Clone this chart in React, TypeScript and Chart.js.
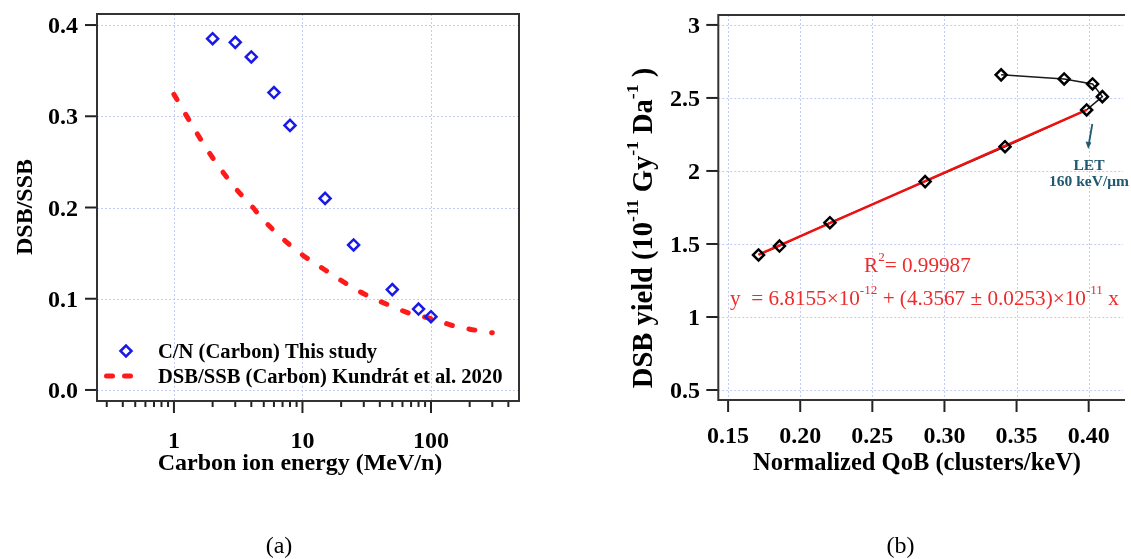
import React, { useEffect, useRef } from "react";
import { Chart, registerables } from "chart.js";
Chart.register(...registerables);

// ---------------- Panel (a) data ----------------
const energyStudy = [2, 3, 4, 6, 8, 15, 25, 50, 80, 100];
const ratioStudy = [0.385, 0.381, 0.365, 0.326, 0.29, 0.21, 0.159, 0.11, 0.0887, 0.0803];
const energyKundrat = [1, 1.5, 2, 3, 4, 5, 7, 10, 15, 20, 30, 50, 70, 100, 150, 200, 300];
const ratioKundrat = [0.324, 0.282, 0.2545, 0.2215, 0.202, 0.186, 0.166, 0.148, 0.1315, 0.12, 0.1055, 0.0915, 0.0835, 0.0783, 0.0703, 0.0666, 0.0627];
const aYTicks = [0, 0.1, 0.2, 0.3, 0.4];
const aYTickLabels = ["0.0", "0.1", "0.2", "0.3", "0.4"];
const aXMajor = [1, 10, 100];
const aXMajorLabels = ["1", "10", "100"];
const aXMinor = [0.3, 0.4, 0.5, 0.6, 0.7, 0.8, 0.9, 2, 3, 4, 5, 6, 7, 8, 9, 20, 30, 40, 50, 60, 70, 80, 90, 200, 300, 400];

// ---------------- Panel (b) data ----------------
const qobValues = [0.3393, 0.383, 0.4027, 0.4095, 0.3986, 0.342, 0.2866, 0.2206, 0.1856, 0.1711];
const dsbYield = [2.658, 2.63, 2.596, 2.509, 2.418, 2.166, 1.927, 1.646, 1.486, 1.425];
const fitQob = [0.1711, 0.3986];
const fitYield = [1.427, 2.418];
const bXTicks = [0.15, 0.2, 0.25, 0.3, 0.35, 0.4];
const bXTickLabels = ["0.15", "0.20", "0.25", "0.30", "0.35", "0.40"];
const bYTicks = [0.5, 1, 1.5, 2, 2.5, 3];
const bYTickLabels = ["0.5", "1", "1.5", "2", "2.5", "3"];

const FONT = "'Liberation Serif', 'Times New Roman', Times, serif";
const GRID = "#c3cbf4";
const FRAME = "#333333";
const TEAL = "#215a70";
const RED_TXT = "#ee2a2a";

type Part = { t: string; sup?: boolean };

function drawRich(
  ctx: CanvasRenderingContext2D,
  parts: Part[],
  x: number,
  y: number,
  size: number,
  opts: { bold?: boolean; color?: string; align?: "left" | "center" | "right"; sx?: number; supScale?: number; supRaise?: number }
) {
  const bold = opts.bold ? "bold " : "";
  const sx = opts.sx ?? 1;
  const supSize = size * (opts.supScale ?? 0.62);
  const raise = size * (opts.supRaise ?? 0.42);
  ctx.save();
  ctx.textBaseline = "alphabetic";
  ctx.textAlign = "left";
  const widths = parts.map((p) => {
    ctx.font = `${bold}${p.sup ? supSize : size}px ${FONT}`;
    return ctx.measureText(p.t).width * sx;
  });
  const total = widths.reduce((s, w) => s + w, 0);
  let cx = opts.align === "center" ? x - total / 2 : opts.align === "right" ? x - total : x;
  ctx.fillStyle = opts.color ?? "#000";
  parts.forEach((p, i) => {
    ctx.font = `${bold}${p.sup ? supSize : size}px ${FONT}`;
    ctx.save();
    ctx.translate(cx, p.sup ? y - raise : y);
    ctx.scale(sx, 1);
    ctx.fillText(p.t, 0, 0);
    ctx.restore();
    cx += widths[i];
  });
  ctx.restore();
  return total;
}

function txt(
  ctx: CanvasRenderingContext2D,
  s: string,
  x: number,
  y: number,
  size: number,
  opts: { bold?: boolean; color?: string; align?: "left" | "center" | "right"; sx?: number }
) {
  return drawRich(ctx, [{ t: s }], x, y, size, opts);
}

function seg(ctx: CanvasRenderingContext2D, x1: number, y1: number, x2: number, y2: number) {
  ctx.beginPath();
  ctx.moveTo(x1, y1);
  ctx.lineTo(x2, y2);
  ctx.stroke();
}

function diamond(ctx: CanvasRenderingContext2D, x: number, y: number, r: number) {
  ctx.beginPath();
  ctx.moveTo(x - r, y);
  ctx.lineTo(x, y - r);
  ctx.lineTo(x + r, y);
  ctx.lineTo(x, y + r);
  ctx.closePath();
  ctx.stroke();
}

const panelAPlugin = {
  id: "panelA",
  beforeDatasetsDraw(chart: any) {
    const { ctx, chartArea: ca, scales } = chart;
    const x = scales.x, y = scales.y;
    ctx.save();
    ctx.strokeStyle = GRID;
    ctx.lineWidth = 1;
    ctx.setLineDash([2, 2]);
    aXMajor.forEach((v) => {
      const px = Math.round(x.getPixelForValue(v)) + 0.5;
      seg(ctx, px, ca.top, px, ca.bottom);
    });
    aYTicks.forEach((v) => {
      const py = Math.round(y.getPixelForValue(v)) + 0.5;
      seg(ctx, ca.left, py, ca.right, py);
    });
    ctx.restore();
  },
  afterDatasetsDraw(chart: any) {
    const { ctx, chartArea: ca, scales } = chart;
    const x = scales.x, y = scales.y;
    ctx.save();
    // ticks
    ctx.strokeStyle = "#222";
    ctx.lineWidth = 2;
    aYTicks.forEach((v) => {
      const py = y.getPixelForValue(v);
      seg(ctx, ca.left - 12, py, ca.left, py);
    });
    aXMajor.forEach((v) => {
      const px = x.getPixelForValue(v);
      seg(ctx, px, ca.bottom, px, ca.bottom + 12);
    });
    aXMinor.forEach((v) => {
      const px = x.getPixelForValue(v);
      seg(ctx, px, ca.bottom, px, ca.bottom + 6);
    });
    // frame
    ctx.strokeStyle = FRAME;
    ctx.lineWidth = 2;
    ctx.strokeRect(ca.left, ca.top, ca.right - ca.left, ca.bottom - ca.top);
    // tick labels
    aYTicks.forEach((v, i) => {
      txt(ctx, aYTickLabels[i], 78, y.getPixelForValue(v) + 8, 24, { bold: true, align: "right" });
    });
    aXMajor.forEach((v, i) => {
      txt(ctx, aXMajorLabels[i], x.getPixelForValue(v), 448, 24, { bold: true, align: "center" });
    });
    // titles
    txt(ctx, "Carbon ion energy (MeV/n)", 300, 470, 24, { bold: true, align: "center" });
    ctx.save();
    ctx.translate(32, 207);
    ctx.rotate(-Math.PI / 2);
    txt(ctx, "DSB/SSB", 0, 0, 24, { bold: true, align: "center" });
    ctx.restore();
    // legend
    ctx.strokeStyle = "#1a1ae6";
    ctx.lineWidth = 2.5;
    diamond(ctx, 126, 351, 5.5);
    ctx.strokeStyle = "#ff1a1a";
    ctx.lineWidth = 5;
    ctx.lineCap = "round";
    seg(ctx, 106.5, 376, 112.5, 376);
    seg(ctx, 124.5, 376, 130.5, 376);
    txt(ctx, "C/N (Carbon) This study", 158, 358, 20.6, { bold: true });
    txt(ctx, "DSB/SSB (Carbon) Kundrát et al. 2020", 158, 383, 20.6, { bold: true });
    // caption
    txt(ctx, "(a)", 279, 553, 24, { align: "center" });
    ctx.restore();
  },
};

const panelBPlugin = {
  id: "panelB",
  beforeDatasetsDraw(chart: any) {
    const { ctx, chartArea: ca, scales } = chart;
    const x = scales.x, y = scales.y;
    ctx.save();
    ctx.strokeStyle = GRID;
    ctx.lineWidth = 1;
    ctx.setLineDash([2, 2]);
    bXTicks.forEach((v) => {
      const px = Math.round(x.getPixelForValue(v)) + 0.5;
      seg(ctx, px, ca.top, px, ca.bottom);
    });
    bYTicks.forEach((v) => {
      const py = Math.round(y.getPixelForValue(v)) + 0.5;
      seg(ctx, ca.left, py, ca.right, py);
    });
    ctx.restore();
  },
  afterDatasetsDraw(chart: any) {
    const { ctx, chartArea: ca, scales } = chart;
    const x = scales.x, y = scales.y;
    ctx.save();
    ctx.strokeStyle = "#222";
    ctx.lineWidth = 2;
    bYTicks.forEach((v) => {
      const py = y.getPixelForValue(v);
      seg(ctx, ca.left - 12, py, ca.left, py);
    });
    bXTicks.forEach((v) => {
      const px = x.getPixelForValue(v);
      seg(ctx, px, ca.bottom, px, ca.bottom + 12);
    });
    // frame: top, left, bottom (right edge lies beyond the image)
    ctx.strokeStyle = FRAME;
    ctx.lineWidth = 2;
    ctx.beginPath();
    ctx.moveTo(ca.right + 2, ca.top);
    ctx.lineTo(ca.left, ca.top);
    ctx.lineTo(ca.left, ca.bottom);
    ctx.lineTo(ca.right + 2, ca.bottom);
    ctx.stroke();
    // tick labels
    bYTicks.forEach((v, i) => {
      txt(ctx, bYTickLabels[i], 135, y.getPixelForValue(v) + 8, 24, { bold: true, align: "right" });
    });
    bXTicks.forEach((v, i) => {
      txt(ctx, bXTickLabels[i], x.getPixelForValue(v), 443, 24, { bold: true, align: "center" });
    });
    // titles
    txt(ctx, "Normalized QoB (clusters/keV)", 352, 470, 24.5, { bold: true, align: "center" });
    ctx.save();
    ctx.translate(87, 228);
    ctx.rotate(-Math.PI / 2);
    drawRich(
      ctx,
      [
        { t: "DSB yield (10" },
        { t: "-11", sup: true },
        { t: " Gy" },
        { t: "-1", sup: true },
        { t: " Da" },
        { t: "-1", sup: true },
        { t: " )" },
      ],
      0,
      0,
      28.5,
      { bold: true, align: "center", supScale: 0.62, supRaise: 0.5 }
    );
    ctx.restore();
    // fit annotations
    drawRich(ctx, [{ t: "R" }, { t: "2", sup: true }, { t: "= 0.99987" }], 299, 272, 21.2, { color: RED_TXT, supScale: 0.62, supRaise: 0.5 });
    drawRich(
      ctx,
      [
        { t: "y  = 6.8155×10" },
        { t: "-12", sup: true },
        { t: " + (4.3567 ± 0.0253)×10" },
        { t: "-11", sup: true },
        { t: " x" },
      ],
      165,
      305,
      21.2,
      { color: RED_TXT, supScale: 0.62, supRaise: 0.5 }
    );
    // LET annotation
    ctx.strokeStyle = TEAL;
    ctx.fillStyle = TEAL;
    ctx.lineWidth = 1.8;
    seg(ctx, 527.3, 124, 524, 143);
    ctx.beginPath();
    ctx.moveTo(523.2, 149);
    ctx.lineTo(520.6, 141.5);
    ctx.lineTo(526.4, 142.5);
    ctx.closePath();
    ctx.fill();
    txt(ctx, "LET", 524, 170, 15.5, { bold: true, color: TEAL, align: "center" });
    txt(ctx, "160 keV/μm", 524, 186, 15.5, { bold: true, color: TEAL, align: "center" });
    // caption
    txt(ctx, "(b)", 335.6, 553, 24, { align: "center" });
    ctx.restore();
  },
};

function makeConfigA(): any {
  return {
    type: "scatter",
    data: {
      datasets: [
        {
          label: "C/N (Carbon) This study",
          data: energyStudy.map((e, i) => ({ x: e, y: ratioStudy[i] })),
          pointStyle: "rectRot",
          pointRadius: 5.5,
          borderColor: "#1a1ae6",
          backgroundColor: "rgba(0,0,0,0)",
          borderWidth: 2.5,
          showLine: false,
          order: 0,
        },
        {
          label: "DSB/SSB (Carbon) Kundrát et al. 2020",
          data: energyKundrat.map((e, i) => ({ x: e, y: ratioKundrat[i] })),
          showLine: true,
          borderColor: "#ff1a1a",
          borderWidth: 5,
          borderDash: [6, 17],
          borderCapStyle: "round",
          cubicInterpolationMode: "monotone",
          pointRadius: 0,
          fill: false,
          order: 1,
        },
      ],
    },
    options: {
      responsive: false,
      animation: false,
      events: [],
      layout: { padding: { left: 97, top: 14, right: 46, bottom: 158 } },
      scales: {
        x: { type: "logarithmic", min: 0.252, max: 484, display: false },
        y: { type: "linear", min: -0.0121, max: 0.4121, display: false },
      },
      plugins: { legend: { display: false }, tooltip: { enabled: false } },
    },
    plugins: [panelAPlugin],
  };
}

function makeConfigB(): any {
  return {
    type: "scatter",
    data: {
      datasets: [
        {
          label: "DSB yield points",
          data: qobValues.map((q, i) => ({ x: q, y: dsbYield[i] })),
          pointStyle: "rectRot",
          pointRadius: 5.5,
          borderColor: "#000",
          backgroundColor: "rgba(0,0,0,0)",
          borderWidth: 2.5,
          showLine: false,
          order: 0,
        },
        {
          label: "Linear fit",
          data: fitQob.map((q, i) => ({ x: q, y: fitYield[i] })),
          showLine: true,
          borderColor: "#f01010",
          borderWidth: 2.5,
          pointRadius: 0,
          fill: false,
          order: 1,
        },
        {
          label: "DSB yield",
          data: qobValues.map((q, i) => ({ x: q, y: dsbYield[i] })),
          showLine: true,
          borderColor: "#1a1a1a",
          borderWidth: 1.5,
          pointRadius: 0,
          fill: false,
          order: 2,
        },
      ],
    },
    options: {
      responsive: false,
      animation: false,
      events: [],
      layout: { padding: { left: 153.3, top: 15, right: 0, bottom: 159 } },
      scales: {
        x: { type: "linear", min: 0.1432, max: 0.4238, display: false },
        y: { type: "linear", min: 0.4315, max: 3.068, display: false },
      },
      plugins: { legend: { display: false }, tooltip: { enabled: false } },
    },
    plugins: [panelBPlugin],
  };
}

export default function App() {
  const refA = useRef<HTMLCanvasElement>(null);
  const refB = useRef<HTMLCanvasElement>(null);
  useEffect(() => {
    const a = new Chart(refA.current as HTMLCanvasElement, makeConfigA());
    const b = new Chart(refB.current as HTMLCanvasElement, makeConfigB());
    return () => {
      a.destroy();
      b.destroy();
    };
  }, []);
  return (
    <div style={{ position: "absolute", left: 0, top: 0, width: 1131, height: 559, background: "#fff", overflow: "hidden" }}>
      <canvas ref={refA} width={565} height={559} style={{ position: "absolute", left: 0, top: 0, width: 565, height: 559 }} />
      <canvas ref={refB} width={566} height={559} style={{ position: "absolute", left: 565, top: 0, width: 566, height: 559 }} />
    </div>
  );
}
